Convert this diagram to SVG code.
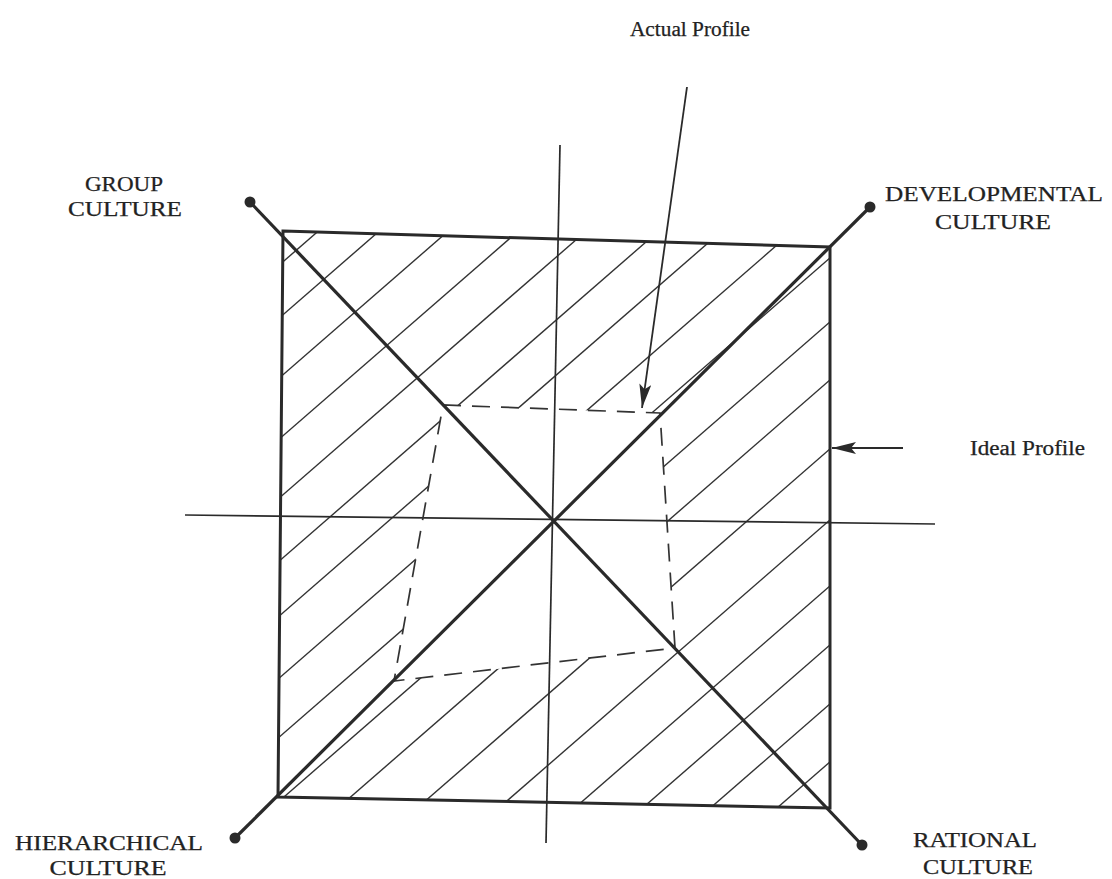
<svg xmlns="http://www.w3.org/2000/svg" width="1112" height="879" viewBox="0 0 1112 879">
<style>
.lbl{font-family:"Liberation Serif","DejaVu Serif",serif;font-size:20px;fill:#222;stroke:#222;stroke-width:0.25;}
.box{fill:none;stroke:#2a2a2a;stroke-width:3;}
.diag{stroke:#2a2a2a;stroke-width:3.2;fill:none;}
.axis{stroke:#2a2a2a;stroke-width:1.7;fill:none;}
.hatch{stroke:#333;stroke-width:1.4;}
.dash{fill:none;stroke:#333;stroke-width:1.7;stroke-dasharray:18 11;}
.dot{fill:#2a2a2a;}
.arr{stroke:#2a2a2a;stroke-width:1.8;fill:none;}
</style>
<defs>
<clipPath id="ring">
<path clip-rule="evenodd" d="M283,231 L830,247 L830,808 L278,797 Z M443,405 L660,413 L675,648 L394,681 Z"/>
</clipPath>
<marker id="ah" viewBox="0 0 24 12" refX="24" refY="6" markerWidth="24" markerHeight="12" markerUnits="userSpaceOnUse" orient="auto">
<path d="M0,0 L24,6 L0,12 L5,6 Z" fill="#2a2a2a"/>
</marker>
</defs>
<rect width="1112" height="879" fill="#ffffff"/>
<g id="hatching" clip-path="url(#ring)">
<line class="hatch" x1="200" y1="334" x2="900" y2="-275"/>
<line class="hatch" x1="200" y1="387" x2="900" y2="-222"/>
<line class="hatch" x1="200" y1="447" x2="900" y2="-162"/>
<line class="hatch" x1="200" y1="508" x2="900" y2="-101"/>
<line class="hatch" x1="200" y1="567" x2="900" y2="-42"/>
<line class="hatch" x1="200" y1="630" x2="900" y2="21"/>
<line class="hatch" x1="200" y1="685" x2="900" y2="76"/>
<line class="hatch" x1="200" y1="747" x2="900" y2="138"/>
<line class="hatch" x1="200" y1="806" x2="900" y2="197"/>
<line class="hatch" x1="200" y1="870" x2="900" y2="261"/>
<line class="hatch" x1="200" y1="928" x2="900" y2="319"/>
<line class="hatch" x1="200" y1="997" x2="900" y2="388"/>
<line class="hatch" x1="200" y1="1068" x2="900" y2="459"/>
<line class="hatch" x1="200" y1="1134" x2="900" y2="525"/>
<line class="hatch" x1="200" y1="1193" x2="900" y2="584"/>
<line class="hatch" x1="200" y1="1252" x2="900" y2="643"/>
<line class="hatch" x1="200" y1="1310" x2="900" y2="701"/>
</g>
<g id="axes">
<line class="axis" x1="560" y1="145" x2="546" y2="843"/>
<line class="axis" x1="185" y1="515" x2="935" y2="524"/>
</g>
<g id="ideal-profile">
<path class="box" d="M283,231 L830,247 L830,808 L278,797 Z"/>
</g>
<g id="actual-profile">
<path class="dash" d="M443,405 L660,413 L675,648 L394,681 Z"/>
</g>
<g id="diagonals">
<line class="diag" x1="250" y1="202" x2="862" y2="845"/>
<line class="diag" x1="870" y1="207" x2="235" y2="838"/>
</g>
<g id="group-culture">
<circle class="dot" cx="250" cy="202" r="5.5"/>
<text class="lbl" x="124" y="191" text-anchor="middle" textLength="78" lengthAdjust="spacingAndGlyphs">GROUP</text>
<text class="lbl" x="125" y="216" text-anchor="middle" textLength="114" lengthAdjust="spacingAndGlyphs">CULTURE</text>
</g>
<g id="developmental-culture">
<circle class="dot" cx="870" cy="207" r="5.5"/>
<text class="lbl" x="994" y="201" text-anchor="middle" textLength="218" lengthAdjust="spacingAndGlyphs">DEVELOPMENTAL</text>
<text class="lbl" x="993" y="229" text-anchor="middle" textLength="116" lengthAdjust="spacingAndGlyphs">CULTURE</text>
</g>
<g id="hierarchical-culture">
<circle class="dot" cx="235" cy="838" r="5.5"/>
<text class="lbl" x="109" y="850" text-anchor="middle" textLength="188" lengthAdjust="spacingAndGlyphs">HIERARCHICAL</text>
<text class="lbl" x="108" y="875" text-anchor="middle" textLength="117" lengthAdjust="spacingAndGlyphs">CULTURE</text>
</g>
<g id="rational-culture">
<circle class="dot" cx="862" cy="845" r="5.5"/>
<text class="lbl" x="975" y="847" text-anchor="middle" textLength="124" lengthAdjust="spacingAndGlyphs">RATIONAL</text>
<text class="lbl" x="978" y="874" text-anchor="middle" textLength="110" lengthAdjust="spacingAndGlyphs">CULTURE</text>
</g>
<g id="connectors">
<line class="arr" x1="687" y1="87" x2="642" y2="408" marker-end="url(#ah)"/>
<line class="arr" x1="903" y1="448" x2="832" y2="448" marker-end="url(#ah)"/>
</g>
<g id="labels">
<text class="lbl" x="630" y="36" textLength="120" lengthAdjust="spacingAndGlyphs">Actual Profile</text>
<text class="lbl" x="970" y="455" textLength="115" lengthAdjust="spacingAndGlyphs">Ideal Profile</text>
</g>
</svg>
